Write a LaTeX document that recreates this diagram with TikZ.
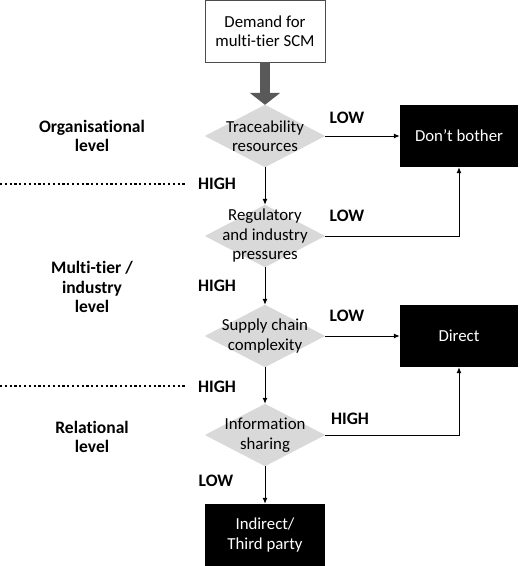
\documentclass[tikz,border=0pt]{standalone}
\usepackage{fontspec}
\setmainfont[Ligatures=NoCommon]{Carlito}
\usetikzlibrary{arrows.meta,backgrounds}
\begin{document}
\begin{tikzpicture}[x=1pt,y=-1pt,
  every node/.style={font=\fontsize{16.8}{19.5}\selectfont, align=center, inner sep=0pt},
  dia/.style={rectangle, minimum width=120pt, minimum height=62pt},
  blk/.style={rectangle, fill=black, text=white, minimum width=118pt, minimum height=62pt},
  wbox/.style={rectangle, draw=black!70, line width=0.8pt, fill=white, minimum width=120pt, minimum height=62pt},
  lbl/.style={font=\fontsize{17.5}{19.5}\selectfont\bfseries},
  con/.style={line width=1pt, -{Latex[length=6pt,width=5pt]}},
  dots/.style={line width=2.8pt, dash pattern=on 2.2pt off 2.6pt},
  bigarrow/.style={line width=10pt, draw=black!65, -{Triangle[length=12pt,width=30pt]}},
  diafill/.style={fill=black!15}
]
\useasboundingbox (0,0) rectangle (520,566);
\node[wbox] (demand) at (265,31) {Demand for\\multi-tier SCM};
\node[dia] (d1) at (265,136) {Traceability\\resources};
\node[dia] (d2) at (265,236) {Regulatory\\and industry\\pressures};
\node[dia] (d3) at (265,336) {Supply chain\\complexity};
\node[dia] (d4) at (265,435) {Information\\sharing};
\node[blk] (bother) at (459,136) {Don't bother};
\node[blk] (direct) at (459,336) {Direct};
\node[blk, minimum width=120pt] (indirect) at (265,535) {Indirect/\\Third party};

\begin{scope}[on background layer]
\foreach \d in {d1,d2,d3,d4}
  \fill[diafill] (\d.north) -- (\d.east) -- (\d.south) -- (\d.west) -- cycle;
\end{scope}

\draw[bigarrow] (demand.south) -- (d1.north);
\draw[con] (d1.east) -- (bother.west);
\draw[con] (d1.south) -- (d2.north);
\draw[con] (d2.east) -| (bother.south);
\draw[con] (d2.south) -- (d3.north);
\draw[con] (d3.east) -- (direct.west);
\draw[con] (d3.south) -- (d4.north);
\draw[con] (d4.east) -| (direct.south);
\draw[con] (d4.south) -- (indirect.north);

\node[lbl] (low1) at (347,118) {LOW};
\node[lbl] (low2) at (347,216) {LOW};
\node[lbl] (low3) at (347,316) {LOW};
\node[lbl] (high4) at (350,419) {HIGH};
\node[lbl] (high1) at (217,184) {HIGH};
\node[lbl] (high2) at (217,286) {HIGH};
\node[lbl] (high3) at (217,387) {HIGH};
\node[lbl] (low4) at (216,481) {LOW};

\coordinate (a1) at (0,184);
\coordinate (a2) at (186,184);
\coordinate (b1) at (0,386);
\coordinate (b2) at (186,386);
\draw[dots] (a1) -- (a2);
\draw[dots] (b1) -- (b2);

\node[lbl] (org) at (92,136) {Organisational\\level};
\node[lbl] (multi) at (92,287) {Multi-tier /\\industry\\level};
\node[lbl] (rel) at (92,437) {Relational\\level};
\end{tikzpicture}
\end{document}
